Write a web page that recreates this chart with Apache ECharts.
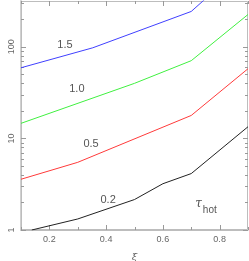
<!DOCTYPE html>
<html>
<head>
<meta charset="utf-8">
<script src="https://cdn.jsdelivr.net/npm/echarts@6/dist/echarts.min.js"></script>
<style>html,body{margin:0;padding:0;background:#fff;}#c{width:249px;height:261px;}</style>
</head>
<body>
<div id="c"></div>
<script>
// ---- data ----
const xi15 = [0.1, 0.353, 0.7, 0.9];
const tau15 = [59, 97.5, 243, 870];
const xi10 = [0.1, 0.5, 0.7, 0.9];
const tau10 = [14.6, 39.9, 70.5, 225];
const xi05 = [0.1, 0.3, 0.7, 0.9];
const tau05 = [3.58, 5.48, 17.8, 57.6];
const xi02 = [0.138, 0.3, 0.5, 0.6, 0.7, 0.9];
const tau02 = [1.0, 1.32, 2.15, 3.2, 4.13, 13.4];

const seriesNames = ['1.5', '1.0', '0.5', '0.2'];
const annX = [0.255, 0.297, 0.347, 0.407, 0.752];
const annY = [105, 34.9, 8.6, 2.12, 1.8];
const annText = ['1.5', '1.0', '0.5', '0.2', '{t|τ}{s|hot}'];

const xMajorTicks = [0.2, 0.4, 0.6, 0.8];
const xMinorTicks = [0.1, 0.3, 0.5, 0.7, 0.9];
const yMajorTicks = [1, 10, 100];
const yMinorTicks = [2, 3, 4, 5, 6, 7, 8, 9, 20, 30, 40, 50, 60, 70, 80, 90, 200, 300];

const X_MIN = 0.1, X_MAX = 0.9, Y_MIN = 1, Y_MAX = 316;

function pairs(xs, ys) { return xs.map((x, i) => [x, ys[i]]); }

const tickData = []
  .concat(xMajorTicks.map(v => [v, Y_MIN, 0, 5]))
  .concat(xMinorTicks.map(v => [v, Y_MIN, 0, 3]))
  .concat(yMajorTicks.map(v => [X_MIN, v, 1, 5]))
  .concat(yMinorTicks.map(v => [X_MIN, v, 1, 3]));

const chart = echarts.init(document.getElementById('c'), null, {renderer: 'canvas'});
const gray = '#bdbdbd';
const txt = '#666';
const font = 'Liberation Sans';

function lineSeries(name, xs, ys, color) {
  return {
    type: 'line', name: name, data: pairs(xs, ys), symbol: 'none',
    lineStyle: {color: color, width: 1}, clip: true, silent: true, z: 3
  };
}

chart.setOption({
  animation: false,
  grid: {left: 21, right: 1, top: 1, bottom: 31, containLabel: false, outerBoundsMode: 'none'},
  xAxis: {
    type: 'value', min: X_MIN, max: X_MAX, interval: 0.1,
    axisLine: {show: true, lineStyle: {color: gray, width: 1}},
    axisTick: {show: false},
    splitLine: {show: false},
    axisLabel: {
      color: txt, fontSize: 9, fontFamily: font, margin: 5,
      formatter: v => (Math.round(v * 10) % 2 === 0 ? v.toFixed(1) : '')
    },
    name: 'ξ', nameLocation: 'middle', nameGap: 22,
    nameTextStyle: {color: txt, fontSize: 10, fontFamily: 'DejaVu Serif', fontStyle: 'italic'}
  },
  yAxis: {
    type: 'log', logBase: 10, min: Y_MIN, max: Y_MAX, interval: 1,
    axisLine: {show: true, lineStyle: {color: '#d0d0d0', width: 2}},
    axisTick: {show: false},
    splitLine: {show: false},
    axisLabel: {
      color: txt, fontSize: 9, fontFamily: font, rotate: 90, margin: 5,
      formatter: v => (yMajorTicks.some(t => Math.abs(t - v) < 1e-6 * t) ? String(Math.round(v)) : '')
    },
    name: 'τ', nameLocation: 'middle', nameGap: 13, nameRotate: 90,
    nameTextStyle: {color: txt, fontSize: 10, fontFamily: 'DejaVu Serif', fontStyle: 'italic'}
  },
  series: [
    lineSeries(seriesNames[0], xi15, tau15, '#4040ff'),
    lineSeries(seriesNames[1], xi10, tau10, '#40f040'),
    lineSeries(seriesNames[2], xi05, tau05, '#ff3a3a'),
    lineSeries(seriesNames[3], xi02, tau02, '#222222'),
    {
      type: 'custom', silent: true, clip: false, z: 2,
      data: tickData,
      encode: {x: 0, y: 1},
      renderItem: function (params, api) {
        const cs = params.coordSys;
        const orient = api.value(2), len = api.value(3);
        const top = cs.y, bottom = cs.y + cs.height, left = cs.x, right = cs.x + cs.width;
        const st = {stroke: '#999', lineWidth: 1};
        if (orient === 0) {
          const px = Math.round(api.coord([api.value(0), Y_MIN])[0]) + 0.5;
          return {type: 'group', children: [
            {type: 'line', shape: {x1: px, y1: bottom, x2: px, y2: bottom - len}, style: st},
            {type: 'line', shape: {x1: px, y1: top, x2: px, y2: top + len}, style: st}
          ]};
        } else {
          const py = Math.round(api.coord([X_MIN, api.value(1)])[1]) + 0.5;
          return {type: 'group', children: [
            {type: 'line', shape: {x1: left, y1: py, x2: left + len, y2: py}, style: st},
            {type: 'line', shape: {x1: right, y1: py, x2: right - len, y2: py}, style: st}
          ]};
        }
      }
    },
    {
      type: 'custom', silent: true, clip: false, z: 1,
      data: [[X_MIN, Y_MIN]],
      encode: {x: 0, y: 1},
      renderItem: function (params, api) {
        const cs = params.coordSys;
        return {type: 'rect', shape: {x: cs.x + 0.5, y: cs.y + 0.5, width: cs.width - 1, height: cs.height - 1},
          style: {fill: 'none', stroke: gray, lineWidth: 1}};
      }
    },
    {
      type: 'custom', silent: true, clip: false, z: 4,
      data: pairs(annX, annY),
      encode: {x: 0, y: 1},
      renderItem: function (params, api) {
        const p = api.coord([api.value(0), api.value(1)]);
        return {
          type: 'text', x: p[0], y: p[1],
          style: {
            text: annText[params.dataIndex], fill: '#555', fontSize: 11, fontFamily: font,
            align: 'center', verticalAlign: 'middle',
            rich: {
              t: {fontSize: 12, fontFamily: 'DejaVu Serif', fontStyle: 'italic', fill: '#555', padding: [0, 1, 6, 0]},
              s: {fontSize: 10, fontFamily: font, fill: '#555', padding: [7, 0, 0, 0]}
            }
          }
        };
      }
    }
  ]
});
</script>
</body>
</html>
